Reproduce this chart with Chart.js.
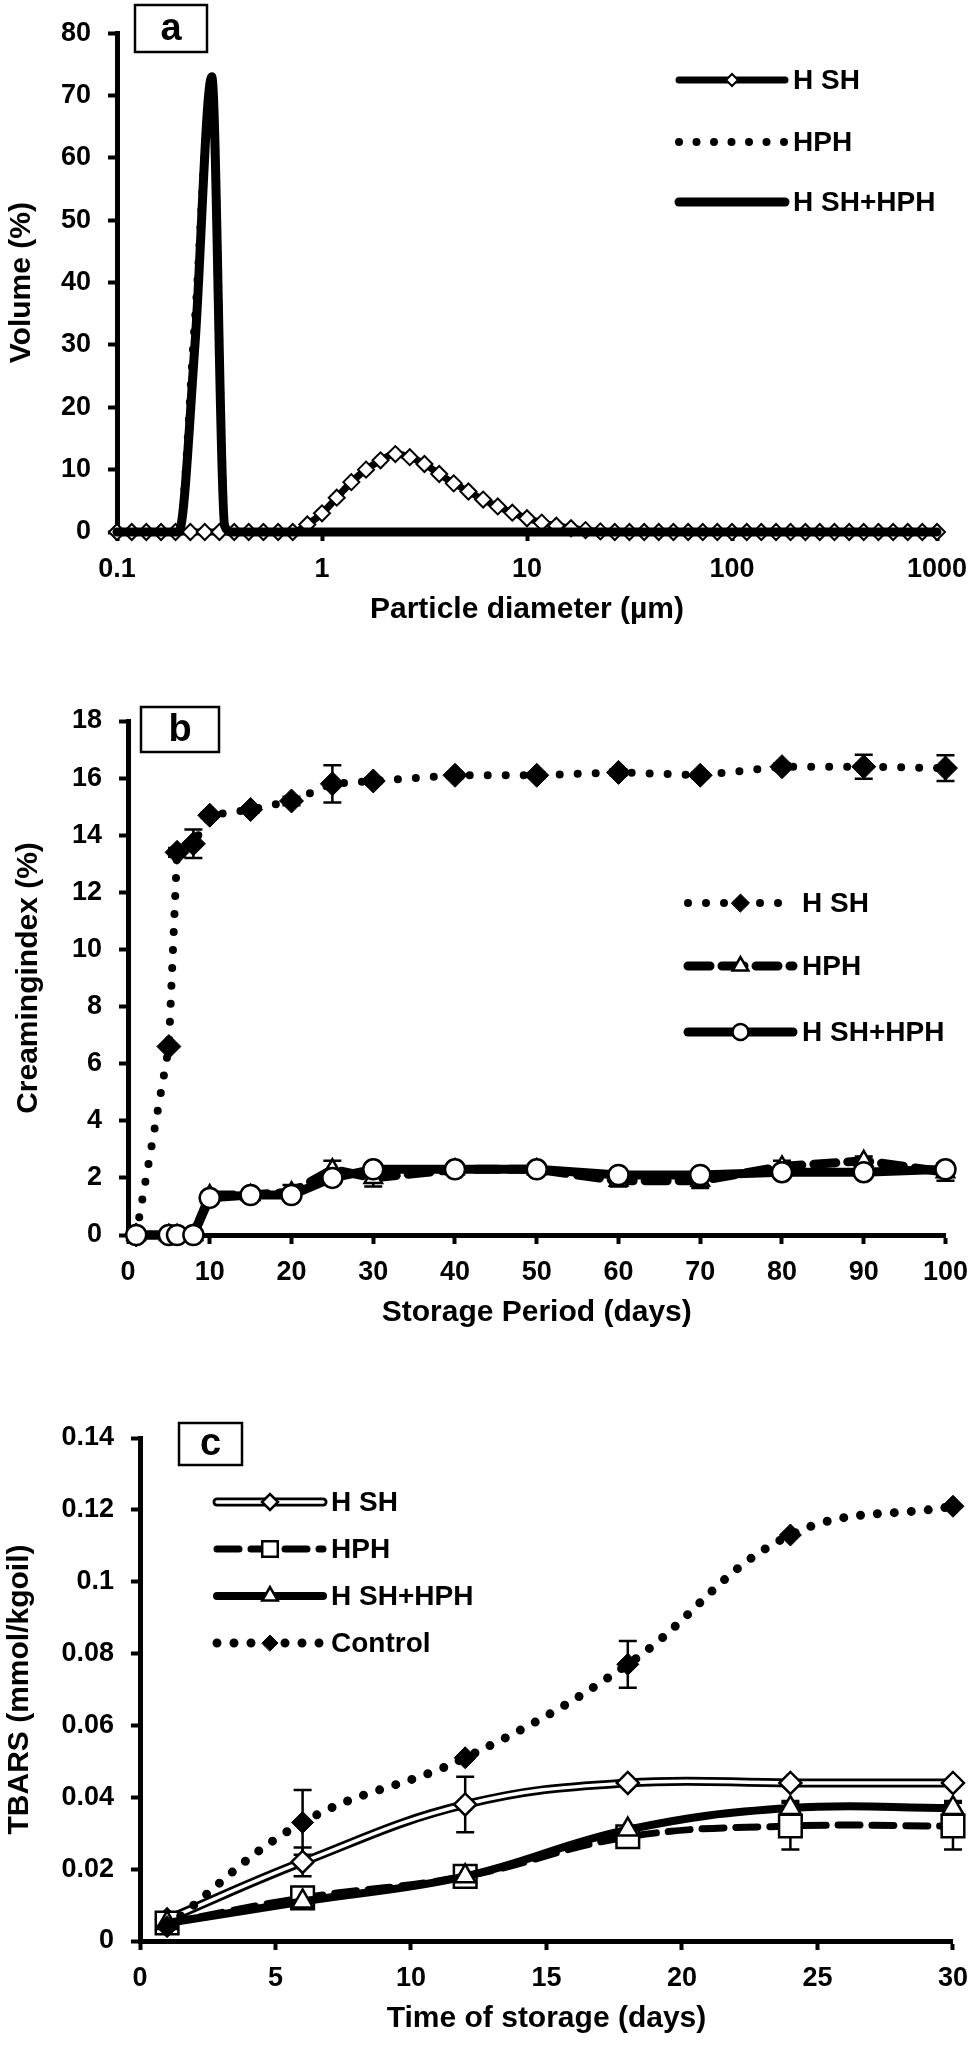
<!DOCTYPE html>
<html>
<head>
<meta charset="utf-8">
<script src="https://cdn.jsdelivr.net/npm/chart.js@4.4.1/dist/chart.umd.min.js"></script>
<style>
  html, body { margin: 0; padding: 0; background: #fff; }
  #wrap { position: relative; width: 980px; height: 2048px; }
  .panel { position: absolute; left: 0; width: 980px; }
</style>
</head>
<body>
<div id="wrap">
  <div class="panel" style="top:0;height:650px"><canvas id="chartA"></canvas></div>
  <div class="panel" style="top:680px;height:690px"><canvas id="chartB"></canvas></div>
  <div class="panel" style="top:1370px;height:678px"><canvas id="chartC"></canvas></div>
</div>
<script>
const FONT = "'Liberation Sans', Arial, Helvetica, sans-serif";

// ---- panel a: particle size distribution (volume %) ----
const sizeA = [0.1, 0.118, 0.139, 0.164, 0.193, 0.228, 0.268, 0.316, 0.373, 0.439, 0.518, 0.611, 0.72, 0.848,
  1, 1.18, 1.39, 1.64, 1.93, 2.28, 2.68, 3.16, 3.73, 4.39, 5.18, 6.11, 7.2, 8.48,
  10, 11.8, 13.9, 16.4, 19.3, 22.8, 26.8, 31.6, 37.3, 43.9, 51.8, 61.1, 72, 84.8,
  100, 118, 139, 164, 193, 228, 268, 316, 373, 439, 518, 611, 720, 848, 1000];
const hshA = [0, 0, 0, 0, 0, 0, 0, 0, 0, 0, 0, 0, 0, 1.2,
  3.0, 5.5, 8.0, 10.0, 11.5, 12.5, 12.0, 10.9, 9.3, 7.8, 6.5, 5.2, 4.1, 3.1,
  2.2, 1.5, 1.0, 0.6, 0.3, 0.1, 0, 0, 0, 0, 0, 0, 0, 0,
  0, 0, 0, 0, 0, 0, 0, 0, 0, 0, 0, 0, 0, 0, 0];
// the two homogenised samples: one narrow peak near 0.29 µm
const sizeSpike = [0.1, 0.2, 0.24, 0.29, 0.335, 0.36, 1, 10, 100, 1000];
const hphA = [0, 0, 34, 72, 2, 0, 0, 0, 0, 0];
const mixA = [0, 0, 30, 73, 1, 0, 0, 0, 0, 0];
const xTicksA = [0.1, 1, 10, 100, 1000];

// ---- panel b: creaming index (%) over storage ----
const daysB = [1, 5, 6, 8, 10, 15, 20, 25, 30, 40, 50, 60, 70, 80, 90, 100];
const hshB = [0, 6.6, 13.4, 13.7, 14.7, 14.9, 15.2, 15.8, 15.9, 16.1, 16.1, 16.2, 16.1, 16.4, 16.4, 16.35];
const hshBErr = [0, 0, 0.15, 0.5, 0.1, 0.1, 0.15, 0.65, 0.1, 0.1, 0.1, 0.1, 0.1, 0.1, 0.42, 0.45];
const hphB = [0, 0, 0, 0, 1.4, 1.4, 1.5, 2.3, 2.0, 2.3, 2.3, 1.9, 1.9, 2.4, 2.6, 2.2];
const hphBErr = [0, 0, 0, 0, 0.1, 0.1, 0.25, 0.3, 0.3, 0.1, 0.1, 0.2, 0.25, 0.2, 0.15, 0.3];
const mixB = [0, 0, 0, 0, 1.3, 1.4, 1.4, 2.0, 2.3, 2.3, 2.3, 2.1, 2.1, 2.2, 2.2, 2.3];
const mixBErr = [0, 0, 0, 0, 0.05, 0.05, 0.1, 0.1, 0.1, 0.1, 0.1, 0.1, 0.1, 0.1, 0.1, 0.1];

// ---- panel c: TBARS (mmol/kg oil) over storage ----
const daysC = [1, 6, 12, 18, 24, 30];
const hshC = [0.006, 0.022, 0.038, 0.044, 0.044, 0.044];
const hshCErr = [0, 0.004, 0.0077, 0, 0, 0];
const hphC = [0.005, 0.012, 0.018, 0.029, 0.032, 0.032];
const hphCErr = [0, 0, 0, 0.0015, 0.0065, 0.0065];
const mixC = [0.005, 0.011, 0.018, 0.031, 0.037, 0.037];
const mixCErr = [0, 0, 0, 0, 0.002, 0.002];
const ctrlC = [0.004, 0.033, 0.051, 0.077, 0.113, 0.121];
const ctrlCErr = [0, 0.009, 0, 0.0065, 0, 0];

const pairs = (xs, ys) => xs.map((x, i) => ({ x, y: ys[i] }));

// Excel-style framed panel letter
const panelBox = {
  id: "panelBox",
  afterDraw(chart, args, o) {
    const ctx = chart.ctx;
    ctx.save();
    ctx.lineWidth = 2.5;
    ctx.strokeStyle = "#000";
    ctx.strokeRect(o.x, o.y, o.w, o.h);
    ctx.fillStyle = "#000";
    ctx.font = `bold 38px ${FONT}`;
    ctx.textAlign = "center";
    ctx.textBaseline = "middle";
    ctx.fillText(o.text, o.x + o.w / 2, o.y + o.h / 2 + 1);
    ctx.restore();
  },
};

// vertical error bars, drawn under the series
const errorBars = {
  id: "errorBars",
  beforeDatasetsDraw(chart) {
    const ctx = chart.ctx;
    const ys = chart.scales.y;
    const cap = 9;
    ctx.save();
    ctx.strokeStyle = "#000";
    ctx.lineWidth = 2.5;
    chart.data.datasets.forEach((ds, i) => {
      if (!ds.errors) return;
      chart.getDatasetMeta(i).data.forEach((pt, j) => {
        const e = ds.errors[j];
        if (!e) return;
        const v = ds.data[j].y;
        const yt = ys.getPixelForValue(v + e);
        const yb = ys.getPixelForValue(v - e);
        ctx.beginPath();
        ctx.moveTo(pt.x, yt); ctx.lineTo(pt.x, yb);
        ctx.moveTo(pt.x - cap, yt); ctx.lineTo(pt.x + cap, yt);
        ctx.moveTo(pt.x - cap, yb); ctx.lineTo(pt.x + cap, yb);
        ctx.stroke();
      });
    });
    ctx.restore();
  },
};

// legend with a line sample and the marker in its middle, like Excel
const lineLegend = {
  id: "lineLegend",
  afterDraw(chart, args, o) {
    const ctx = chart.ctx;
    o.items.forEach((idx, n) => {
      const ds = chart.data.datasets[idx];
      const y = o.ys[n];
      ctx.save();
      ctx.lineCap = "round";
      if (ds.outlineWidth) {
        ctx.strokeStyle = "#000";
        ctx.lineWidth = ds.outlineWidth;
        ctx.beginPath(); ctx.moveTo(o.x1, y); ctx.lineTo(o.x2, y); ctx.stroke();
      }
      ctx.strokeStyle = ds.borderColor;
      ctx.lineWidth = ds.borderWidth;
      ctx.setLineDash(ds.borderDash || []);
      ctx.beginPath(); ctx.moveTo(o.x1, y); ctx.lineTo(o.x2, y); ctx.stroke();
      ctx.setLineDash([]);
      if (ds.pointRadius > 0) {
        ctx.fillStyle = ds.pointBackgroundColor;
        ctx.strokeStyle = ds.pointBorderColor;
        ctx.lineWidth = ds.pointBorderWidth;
        Chart.helpers.drawPoint(ctx, { pointStyle: ds.pointStyle, radius: o.radii[n], borderWidth: ds.pointBorderWidth, rotation: 0 }, (o.x1 + o.x2) / 2, y);
      }
      ctx.fillStyle = "#000";
      ctx.font = `bold 28px ${FONT}`;
      ctx.textAlign = "left";
      ctx.textBaseline = "middle";
      ctx.fillText(ds.label, o.textX, y + 1);
      ctx.restore();
    });
  },
};

function buildScales(c) {
  const grid = { display: true, drawOnChartArea: false, drawTicks: true, tickLength: 9, tickWidth: 4, tickColor: "#000", color: "#000" };
  const border = { display: true, color: "#000", width: 5 };
  const tickFont = { family: FONT, size: 27, weight: "bold" };
  const titleFont = { family: FONT, size: 30, weight: "bold" };
  const x = {
    type: c.xType, min: c.xMin, max: c.xMax, border, grid,
    ticks: { color: "#000", font: tickFont, padding: 12, autoSkip: false, maxRotation: 0 },
    title: { display: true, text: c.xTitle, color: "#000", font: titleFont, padding: { top: 0, bottom: 4 } },
    afterFit: (s) => { s.height = 100; },
  };
  if (c.xStep) x.ticks.stepSize = c.xStep;
  if (c.xFmt) x.ticks.callback = c.xFmt;
  if (c.xTicks) x.afterBuildTicks = (s) => { s.ticks = c.xTicks.map((v) => ({ value: v })); };
  const y = {
    type: "linear", min: c.yMin, max: c.yMax, border, grid,
    ticks: { color: "#000", font: tickFont, padding: 17, autoSkip: false, stepSize: c.yStep },
    title: { display: true, text: c.yTitle, color: "#000", font: titleFont, padding: { top: c.yTitlePad, bottom: 0 } },
    afterFit: (s) => { s.width = c.yWidth; },
  };
  if (c.yFmt) y.ticks.callback = c.yFmt;
  return { x, y };
}

function baseOptions(c) {
  return {
    responsive: true,
    maintainAspectRatio: false,
    animation: false,
    events: [],
    layout: { padding: c.padding },
    plugins: {
      legend: { display: false },
      tooltip: { enabled: false },
      panelBox: c.box,
      lineLegend: c.legend,
    },
    scales: buildScales(c),
  };
}

const common = { fill: false, clip: false, borderColor: "#000", borderJoinStyle: "round", pointBorderColor: "#000" };

// ---------- chart a ----------
new Chart(document.getElementById("chartA"), {
  type: "line",
  data: {
    datasets: [
      { ...common, label: "H SH", data: pairs(sizeA, hshA), order: 3, borderWidth: 7, borderCapStyle: "round",
        cubicInterpolationMode: "monotone", pointStyle: "rectRot", pointRadius: 8, pointBackgroundColor: "#fff", pointBorderWidth: 2 },
      { ...common, label: "HPH", data: pairs(sizeSpike, hphA), order: 2, borderWidth: 8, borderDash: [0, 17.5], borderCapStyle: "round",
        cubicInterpolationMode: "monotone", pointRadius: 0 },
      { ...common, label: "H SH+HPH", data: pairs(sizeSpike, mixA), order: 1, borderWidth: 9, borderCapStyle: "round",
        cubicInterpolationMode: "monotone", pointRadius: 0 },
    ],
  },
  options: baseOptions({
    padding: { top: 25, right: 43, bottom: 18, left: 0 },
    xType: "logarithmic", xMin: 0.1, xMax: 1000, xTicks: xTicksA, xFmt: (v) => String(v),
    xTitle: "Particle diameter (µm)",
    yMin: 0, yMax: 80, yStep: 10, yTitle: "Volume (%)", yTitlePad: 4, yWidth: 117,
    box: { x: 135, y: 5, w: 72, h: 47, text: "a" },
    legend: { items: [0, 1, 2], ys: [80, 142, 202], x1: 679, x2: 785, textX: 793, radii: [6, 0, 0] },
  }),
  plugins: [panelBox, lineLegend],
});

// ---------- chart b ----------
new Chart(document.getElementById("chartB"), {
  type: "line",
  data: {
    datasets: [
      { ...common, label: "H SH", data: pairs(daysB, hshB), errors: hshBErr, order: 3, borderWidth: 8, borderDash: [0, 18], borderCapStyle: "round",
        tension: 0, pointStyle: "rectRot", pointRadius: 12, pointBackgroundColor: "#000", pointBorderWidth: 1 },
      { ...common, label: "HPH", data: pairs(daysB, hphB), errors: hphBErr, order: 2, borderWidth: 9, borderDash: [22, 12], borderCapStyle: "round",
        tension: 0, pointStyle: "triangle", pointRadius: 10, pointBackgroundColor: "#fff", pointBorderWidth: 2.5 },
      { ...common, label: "H SH+HPH", data: pairs(daysB, mixB), errors: mixBErr, order: 1, borderWidth: 9, borderCapStyle: "round",
        tension: 0, pointStyle: "circle", pointRadius: 10, pointBackgroundColor: "#fff", pointBorderWidth: 2.5 },
    ],
  },
  options: baseOptions({
    padding: { top: 41, right: 31, bottom: 35, left: 0 },
    xType: "linear", xMin: 0, xMax: 100, xStep: 10, xTitle: "Storage Period (days)",
    yMin: 0, yMax: 18, yStep: 2, yTitle: "Creamingindex (%)", yTitlePad: 11, yWidth: 128,
    box: { x: 141, y: 27, w: 78, h: 45, text: "b" },
    legend: { items: [0, 1, 2], ys: [223, 286, 352], x1: 688, x2: 793, textX: 802, radii: [9, 9, 8] },
  }),
  plugins: [errorBars, panelBox, lineLegend],
});

// ---------- chart c ----------
new Chart(document.getElementById("chartC"), {
  type: "line",
  data: {
    datasets: [
      { ...common, label: "H SH", data: pairs(daysC, hshC), errors: hshCErr, order: 4, outlineWidth: 9, borderColor: "#fff", borderWidth: 3.5,
        tension: 0.4, pointStyle: "rectRot", pointRadius: 11, pointBackgroundColor: "#fff", pointBorderWidth: 2.5 },
      { ...common, label: "HSH outline", data: pairs(daysC, hshC), order: 5, borderWidth: 9, borderCapStyle: "round", tension: 0.4, pointRadius: 0 },
      { ...common, label: "HPH", data: pairs(daysC, hphC), errors: hphCErr, order: 3, borderWidth: 7, borderDash: [22, 12], borderCapStyle: "round",
        tension: 0.4, pointStyle: "rect", pointRadius: 16, pointBackgroundColor: "#fff", pointBorderWidth: 2.5 },
      { ...common, label: "H SH+HPH", data: pairs(daysC, mixC), errors: mixCErr, order: 2, borderWidth: 8, borderCapStyle: "round",
        tension: 0.4, pointStyle: "triangle", pointRadius: 12, pointBackgroundColor: "#fff", pointBorderWidth: 2.5 },
      { ...common, label: "Control", data: pairs(daysC, ctrlC), errors: ctrlCErr, order: 1, borderWidth: 9, borderDash: [0, 17], borderCapStyle: "round",
        tension: 0.4, pointStyle: "rectRot", pointRadius: 11, pointBackgroundColor: "#000", pointBorderWidth: 1 },
    ],
  },
  options: baseOptions({
    padding: { top: 68, right: 26, bottom: 7, left: 0 },
    xType: "linear", xMin: 0, xMax: 30, xStep: 5, xTitle: "Time of storage (days)",
    yMin: 0, yMax: 0.14, yStep: 0.02, yFmt: (v) => String(+v.toFixed(2)), yTitle: "TBARS (mmol/kgoil)", yTitlePad: 2, yWidth: 140,
    box: { x: 179, y: 53, w: 63, h: 42, text: "c" },
    legend: { items: [0, 2, 3, 4], ys: [132, 179, 226, 273], x1: 217, x2: 323, textX: 331, radii: [8, 11, 9, 8] },
  }),
  plugins: [errorBars, panelBox, lineLegend],
});
</script>
</body>
</html>
